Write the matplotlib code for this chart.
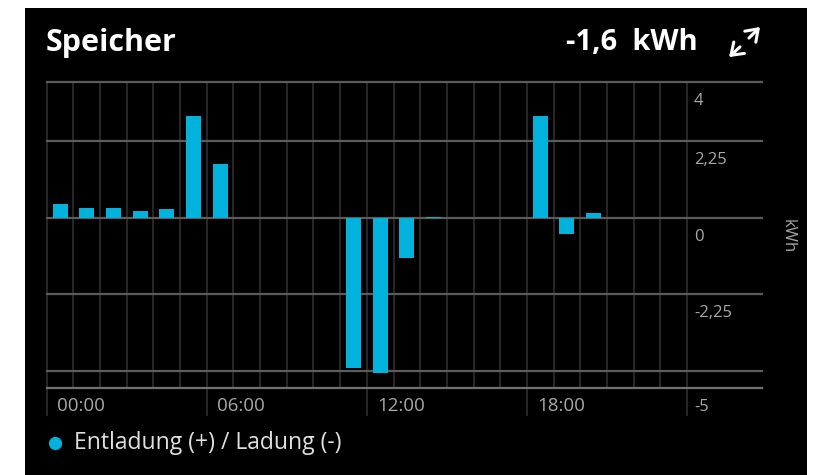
import numpy as np
import matplotlib.pyplot as plt
from matplotlib.patches import Rectangle, FancyArrowPatch
from matplotlib.lines import Line2D
from matplotlib.transforms import blended_transform_factory

# hourly storage energy, kWh (+ discharge / - charge)
hours = np.arange(24)
values = [0.39, 0.28, 0.28, 0.21, 0.26, 2.99, 1.58, 0, 0, 0, 0, -4.41,
          -4.56, -1.18, 0.03, 0, 0, 0, 2.98, -0.48, 0.15, 0, 0, 0]
gridValues = [4, 2.25, 0, -2.25, -4.5, -5]
yLabels = {4: '4', 2.25: '2,25', 0: '0', -2.25: '-2,25', -5: '-5'}
xLabels = ['00:00', '06:00', '12:00', '18:00']
xLabelHours = [0, 6, 12, 18]

W, H = 813, 475
barColor = '#00b2dc'
labelColor = '#a8a8a8'
font = 'Open Sans'

def fx(px):
  return px / W

def fy(py):
  return 1 - py / H

fig = plt.figure(figsize=(W / 100, H / 100), dpi=100)
fig.patch.set_facecolor('white')
fig.add_artist(Rectangle((fx(25), 0), fx(807) - fx(25), fy(8), transform=fig.transFigure,
                         facecolor='black', edgecolor='none', zorder=0))

ax = fig.add_axes([fx(46.7), fy(387.7), fx(687) - fx(46.7), fy(81.7) - fy(387.7)])
ax.set_facecolor('none')
ax.set_xlim(0, 24)
ax.set_ylim(-5, 4)
for s in ax.spines.values():
  s.set_visible(False)
ax.set_xticks([])
ax.set_yticks([])

# vertical hourly grid; 6-hour marks reach down past the axis
for h in range(25):
  bottom = -5.8 if h % 6 == 0 else -5
  ax.plot([h, h], [bottom, 4], color='#2e2e2e', lw=1.2, clip_on=False, zorder=1)

# horizontal grid extends under the y labels
blend = blended_transform_factory(ax.transAxes, ax.transData)
xEnd = (762 - 46.7) / (687 - 46.7)
for g in gridValues:
  c = '#707070' if g == -5 else '#5c5c5c'
  ax.plot([0, xEnd], [g, g], color=c, lw=1.6, transform=blend, clip_on=False, zorder=2)
  if g in yLabels:
    ax.text(1.0 + 7 / 640.3, g - 19 / 34, yLabels[g], transform=blend, color=labelColor,
            fontsize=12, family=font, ha='left', va='center')

ax.bar(hours + 0.5, values, width=0.56, color=barColor, zorder=3)

for h, lab in zip(xLabelHours, xLabels):
  ax.text(h + 10 / 26.68, -5 - 18 / 34, lab, color=labelColor, fontsize=13.5,
          family=font, ha='left', va='center', clip_on=False)

fig.text(fx(788), fy(236), 'kWh', rotation=-90, color=labelColor, fontsize=12,
         family=font, ha='center', va='center')

# header
fig.text(fx(46), fy(43), 'Speicher', color='white', fontsize=22, fontweight='bold',
         family=font, ha='left', va='center')
fig.text(fx(698), fy(43), '-1,6  kWh', color='white', fontsize=21, fontweight='bold',
         family=font, ha='right', va='center')
for (x0, y0), (x1, y1) in [((747, 40), (762, 25)), ((742, 45), (727, 59))]:
  fig.add_artist(FancyArrowPatch((fx(x0), fy(y0)), (fx(x1), fy(y1)), transform=fig.transFigure,
                                 arrowstyle='->,head_length=5,head_width=3.5', color='white',
                                 lw=2.2, mutation_scale=1.6))

# legend
fig.add_artist(Line2D([fx(55)], [fy(443)], marker='o', markersize=8.5, color=barColor,
                      transform=fig.transFigure))
fig.text(fx(74), fy(443), 'Entladung (+) / Ladung (-)', color='#e0e0e0', fontsize=16.5,
         family=font, ha='left', va='center')

fig.savefig('out.png', dpi=100, facecolor=fig.get_facecolor())
